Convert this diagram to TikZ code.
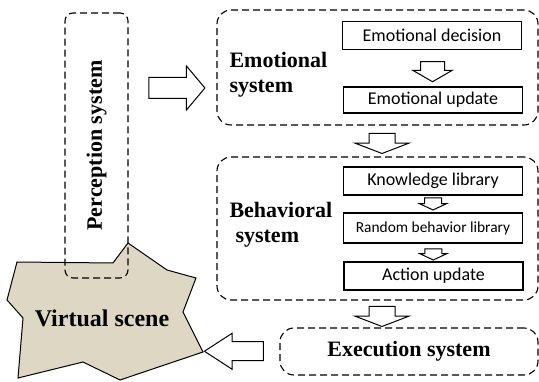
\documentclass[tikz,border=0pt]{standalone}
\usepackage{fontspec}
\setmainfont{Liberation Serif}
\newfontfamily\boxfont{Carlito}
\usepackage{xcolor}
\usetikzlibrary{positioning, arrows.meta, shapes.arrows}
\definecolor{scene}{RGB}{221,215,196}

\begin{document}
\begin{tikzpicture}[x=1pt, y=-1pt, line width=1.1pt,
  sys/.style={draw, dash pattern=on 7pt off 4pt, rounded corners=14pt, inner sep=0pt},
  part/.style={draw, rectangle, inner sep=0pt, minimum width=179pt, minimum height=28pt, font=\boxfont\fontsize{18}{18}\selectfont},
  lbl/.style={font=\bfseries\fontsize{22}{25}\selectfont, align=left, inner sep=0pt},
  fat/.style={single arrow, draw, fill=white, inner sep=0pt, line width=1pt, single arrow head indent=0pt}]
  \useasboundingbox (0,0) rectangle (539,382);

  % Virtual scene
  \draw[fill=scene, line width=1pt] (17,262) -- (113,263) -- (128,243) -- (167,270) -- (196,278)
    -- (183,312) -- (203,352) -- (120,380) -- (83,362) -- (18,378) -- (23,318) -- (7,300) -- cycle;
  \node[font=\bfseries\fontsize{24}{24}\selectfont] (vs) at (102,318) {Virtual scene};
  \coordinate (vsr) at (203,351);

  % Define blocks
  \node[sys, rounded corners=8pt, minimum width=63pt, minimum height=265pt] (perc) at (96.5,145.5) {};
  \node[lbl, rotate=90] at (perc) {Perception system};
  \node[sys, minimum width=321pt, minimum height=115pt] (emo) at (377.5,67.5) {};
  \node[sys, minimum width=321pt, minimum height=143pt] (beh) at (377.5,228.5) {};
  \node[sys, minimum width=258pt, minimum height=47pt] (exe) at (409,351.5) {};
  \node[lbl] at (exe) {Execution system};
  \node[lbl, anchor=west] at (229,74.5) {Emotional\\system};
  \node[lbl, anchor=west] at (229,224.5) {Behavioral\\\hspace{6pt}system};

  \node[part] (dec) at (432,35.5) {Emotional decision};
  \node[part, minimum height=26pt] (upd) at (433,100) {Emotional update};
  \node[part] (kno) at (433,181) {Knowledge library};
  \node[part, minimum height=30pt, font=\boxfont\fontsize{15.4}{15.4}\selectfont] (rnd) at (433,228) {Random behavior library};
  \node[part] (act) at (433.5,276) {Action update};

  % Connect blocks with block arrows
  \path (perc.east |- 0,88) -- node[fat, minimum height=56pt, single arrow head extend=11.5pt, single arrow tip angle=100] {\rule{0pt}{20pt}} (emo.west |- 0,88);
  \path (dec) -- node[fat, rotate=-90, minimum height=20pt, single arrow head extend=7.5pt, single arrow tip angle=120] {\rule{0pt}{23pt}} (upd);
  \path (emo.south) -- node[fat, xshift=4.5pt, rotate=-90, minimum height=20pt, single arrow head extend=14pt, single arrow tip angle=138] {\rule{0pt}{25pt}} (beh.north);
  \path (kno) -- node[fat, yshift=2pt, rotate=-90, minimum height=12pt, single arrow head extend=5pt, single arrow tip angle=130] {\rule{0pt}{16pt}} (rnd);
  \path (rnd) -- node[fat, rotate=-90, minimum height=11pt, single arrow head extend=5pt, single arrow tip angle=130] {\rule{0pt}{16pt}} (act);
  \path (beh.south) -- node[fat, xshift=4.5pt, rotate=-90, minimum height=20pt, single arrow head extend=14pt, single arrow tip angle=138] {\rule{0pt}{25pt}} (beh.south |- exe.north);
  \path (exe.west) -- node[fat, rotate=180, minimum height=59pt, single arrow head extend=8.5pt, single arrow tip angle=66] {\rule{0pt}{18pt}} (vsr);
\end{tikzpicture}
\end{document}
